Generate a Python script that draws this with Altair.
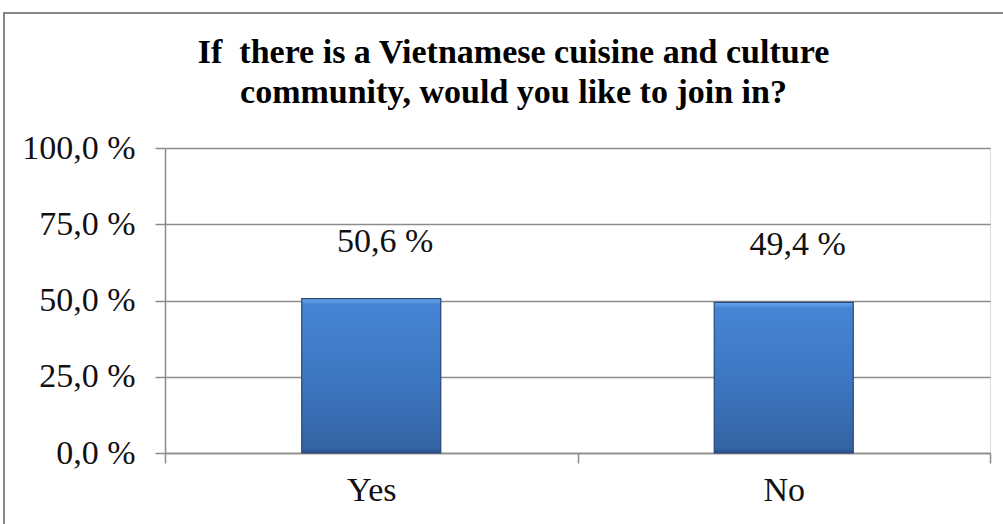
import altair as alt
import pandas as pd

categories = ["Yes", "No"]
values = [50.6, 49.4]
y_ticks = [0, 25, 50, 75, 100]
title_lines = ["If\u00a0 there is a Vietnamese cuisine and culture",
               "community, would you like to join in?"]

df = pd.DataFrame({"answer": categories, "share": values})
df["label"] = [f"{v:.1f}".replace(".", ",") + " %" for v in values]

FONT = "Liberation Serif"
W, H = 825, 305
GRID = "#8c8c8c"
FS = 34

x_enc = alt.X(
    "answer:N", sort=categories,
    scale=alt.Scale(paddingInner=0, paddingOuter=0),
    axis=alt.Axis(title=None, labelAngle=0, tickBand="extent", tickSize=10,
                  tickColor=GRID, tickWidth=1.5, domainColor=GRID, domainWidth=1.5,
                  grid=False, labelFont=FONT, labelFontSize=FS, labelColor="#111",
                  labelPadding=10),
)
y_enc = alt.Y(
    "share:Q", scale=alt.Scale(domain=[0, 100]),
    axis=alt.Axis(title=None, values=y_ticks,
                  labelExpr="replace(format(datum.value, '.1f'), '.', ',') + ' %'",
                  grid=True, gridColor=GRID, gridWidth=1.5, tickSize=10,
                  tickColor=GRID, tickWidth=1.5, domainColor=GRID, domainWidth=1.5,
                  labelFont=FONT, labelFontSize=FS, labelColor="#111", labelPadding=20),
)

base = alt.Chart(df)

border = alt.Chart(df).mark_rect(fill=None, stroke="#878787", strokeWidth=2).encode(
    x=alt.value(-161), x2=alt.value(W + 30), y=alt.value(-135), y2=alt.value(H + 120)
).transform_filter("datum.answer == 'Yes'")

bars = base.mark_bar(
    width=alt.RelativeBandSize(0.337),
    color=alt.Gradient(
        gradient="linear", x1=0, x2=0, y1=0, y2=1,
        stops=[alt.GradientStop(color="#6aa5ea", offset=0),
               alt.GradientStop(color="#4585d4", offset=0.04),
               alt.GradientStop(color="#3d77c2", offset=0.5),
               alt.GradientStop(color="#3463a3", offset=0.97),
               alt.GradientStop(color="#2a5089", offset=1)],
    ),
    stroke="#24487a", strokeWidth=1.2,
).encode(x=x_enc, y=y_enc)

labels = base.mark_text(font=FONT, fontSize=FS, color="#111", dy=-57, dx=14,
                        baseline="middle").encode(
    x=alt.X("answer:N", sort=categories), y="share:Q", text="label:N")

chart = alt.layer(border, bars, labels).properties(
    width=W, height=H,
    title=alt.TitleParams(title_lines, font=FONT, fontSize=34, fontWeight="bold",
                          color="#000", anchor="middle", dx=-64, offset=-98,
                          lineHeight=40),
    autosize=alt.AutoSizeParams(type="none"),
    padding={"left": 165, "top": 148, "right": 13, "bottom": 71},
).configure_view(stroke=None).configure(background="white")

chart.save("out.html", embed_options={"renderer": "svg", "actions": False})
